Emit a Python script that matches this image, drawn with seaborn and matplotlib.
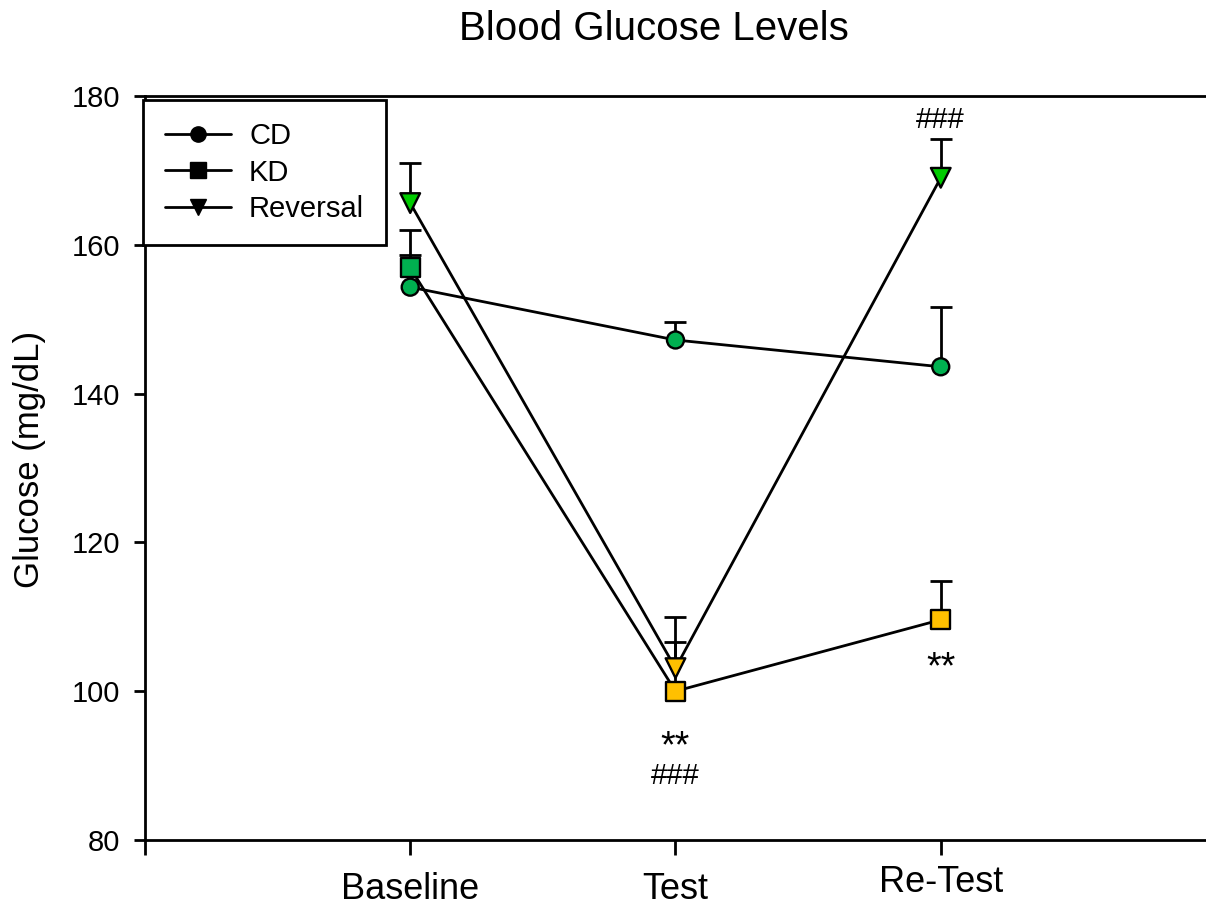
import matplotlib
matplotlib.use("Agg")
import matplotlib.pyplot as plt
import seaborn as sns
import pandas as pd
import numpy as np
from matplotlib.lines import Line2D

# data
timepoints = ["Baseline", "Test", "Re-Test"]
cd_mean = [154.3, 147.2, 143.6]
cd_err = [4.3, 2.4, 8.0]
kd_mean = [156.9, 100.0, 109.6]
kd_err = [5.1, 6.6, 5.2]
rev_mean = [165.6, 103.1, 169.0]
rev_err = [5.4, 6.9, 5.2]

groups = ["CD", "KD", "Reversal"]
markers = {"CD": "o", "KD": "s", "Reversal": "v"}
sizes = {"CD": 150, "KD": 190, "Reversal": 200}
# face colour of each point (green = normal, yellow = low)
point_colors = {
    "CD": ["#00B050", "#00B050", "#00B050"],
    "KD": ["#00B050", "#FFC000", "#FFC000"],
    "Reversal": ["#00CC00", "#FFC000", "#00CC00"],
}

rows = []
for g, m, e in [("CD", cd_mean, cd_err), ("KD", kd_mean, kd_err), ("Reversal", rev_mean, rev_err)]:
    for i, t in enumerate(timepoints):
        rows.append({"group": g, "pos": i + 1, "time": t, "glucose": m[i], "err": e[i],
                     "color": point_colors[g][i]})
df = pd.DataFrame(rows)

sns.set_style("ticks")
plt.rcParams["font.family"] = ["Liberation Sans", "DejaVu Sans"]
plt.rcParams["text.color"] = "black"
plt.rcParams["axes.labelcolor"] = "black"
plt.rcParams["xtick.color"] = "black"
plt.rcParams["ytick.color"] = "black"

fig = plt.figure(figsize=(12.06, 9.05), dpi=100)
ax = fig.add_axes([0.1202, 0.0718, 0.8798, 0.8222])

for g in groups:
    sub = df[df.group == g]
    # upper error bars only
    _, caps, _ = ax.errorbar(sub.pos, sub.glucose, yerr=[np.zeros(len(sub)), sub.err],
                             fmt="none", ecolor="black", elinewidth=2.0, capsize=8,
                             capthick=2.0, zorder=2)
    caps[0].set_visible(False)
    sns.lineplot(data=sub, x="pos", y="glucose", color="black", linewidth=2.0,
                 ax=ax, zorder=3, legend=False)
    sns.scatterplot(data=sub, x="pos", y="glucose", hue="color",
                    palette={c: c for c in sub.color.unique()},
                    marker=markers[g], s=sizes[g],
                    edgecolor="black", linewidth=1.7, ax=ax, zorder=4, legend=False)

# significance marks
ax.text(2, 92.5, "**", ha="center", va="center", fontsize=27)
ax.text(3, 103.1, "**", ha="center", va="center", fontsize=27)
ax.text(2, 88.6, "###", ha="center", va="center", fontsize=21)
ax.text(3, 176.8, "###", ha="center", va="center", fontsize=21)

ax.set_xlim(0, 4)
ax.set_ylim(80, 180)
ax.set_yticks(np.arange(80, 181, 20))
ax.set_xticks([0, 1, 2, 3])
ax.set_xticklabels(["", "Baseline", "Test", "Re-Test"], fontsize=26)
ax.tick_params(axis="y", labelsize=21, length=8, width=2.0, direction="out", pad=10)
ax.tick_params(axis="x", length=11, width=2.0, direction="out", pad=12)
# Re-Test label sits a little higher in the original
ax.get_xticklabels()[3].set_y(0.01)
ax.set_xlabel("")
ax.set_ylabel("Glucose (mg/dL)", fontsize=25)
ax.yaxis.set_label_coords(-0.093, 0.512)
ax.set_title("Blood Glucose Levels", fontsize=29, pad=40, x=0.48)

for s in ["left", "bottom", "top"]:
    ax.spines[s].set_linewidth(2.0)
    ax.spines[s].set_color("black")
ax.spines["right"].set_visible(False)

handles = [Line2D([0], [0], color="black", linewidth=2.0, marker=markers[g],
                  markersize=11, markerfacecolor="black", markeredgecolor="black")
           for g in groups]
leg = ax.legend(handles, groups, loc="upper left", bbox_to_anchor=(-0.002, 0.9946),
                fontsize=21, frameon=True, fancybox=False, handlelength=2.27,
                borderpad=0.75, labelspacing=0.3, handletextpad=0.62, borderaxespad=0.0)
leg.get_frame().set_edgecolor("black")
leg.get_frame().set_linewidth(2.0)
leg.get_frame().set_alpha(1)

fig.savefig("out.png", dpi=100)
